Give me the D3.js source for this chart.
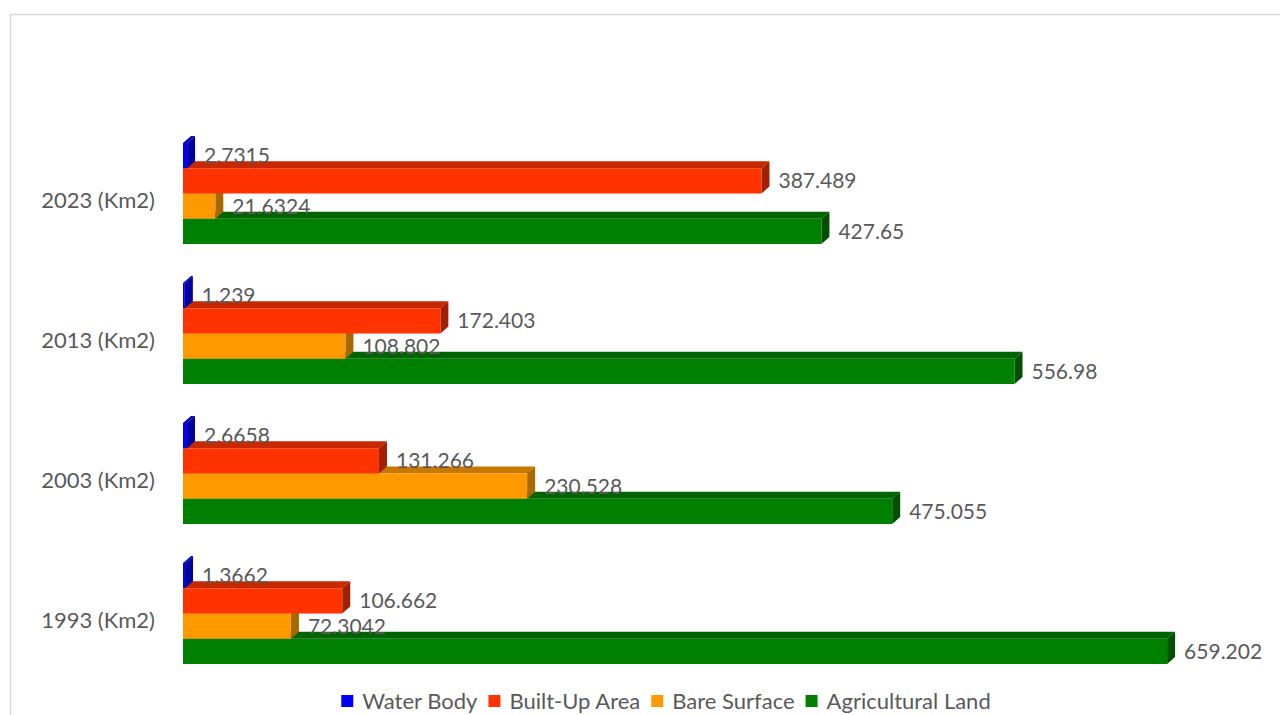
<!DOCTYPE html>
<html>
<head>
<meta charset="utf-8">
<title>Land use change (Km2)</title>
<script src="https://cdnjs.cloudflare.com/ajax/libs/d3/7.8.5/d3.min.js"></script>
<style>
    body { margin: 0; background: #fff; overflow: hidden; }
    text { font-family: Lato, "Open Sans", sans-serif; fill: #595959; }
</style>
</head>
<body>
<div id="chart"></div>
<script>
// categories, bottom to top as in the picture
var years = ["1993 (Km2)", "2003 (Km2)", "2013 (Km2)", "2023 (Km2)"];
var seriesNames = ["Water Body", "Built-Up Area", "Bare Surface", "Agricultural Land"];

// values per year, same order as years
var waterBody = [1.3662, 2.6658, 1.239, 2.7315];
var builtUp = [106.662, 131.266, 172.403, 387.489];
var bareSurface = [72.3042, 230.528, 108.802, 21.6324];
var agricultural = [659.202, 475.055, 556.98, 427.65];

var fronts = ["#0000ff", "#ff3300", "#ff9900", "#008000"];
var tops = ["#0000c0", "#c82800", "#c87800", "#006400"];
var sides = ["#0000a0", "#a02000", "#a86800", "#005000"];

var width = 1280, height = 715;
var depthX = 8, depthY = 7;

var series = [waterBody, builtUp, bareSurface, agricultural];

var svg = d3.select("#chart").append("svg")
    .attr("width", width)
    .attr("height", height);

// chart frame (runs off the right/bottom edge)
svg.append("rect")
    .attr("x", 10.5).attr("y", 14.5)
    .attr("width", 1400).attr("height", 900)
    .attr("fill", "none")
    .attr("stroke", "#d9d9d9")
    .attr("stroke-width", 1.5);

var x = d3.scaleLinear().domain([0, 700]).range([183, 1228]);

var y0 = d3.scaleBand()
    .domain(years.slice().reverse())
    .range([130, 690]);

var y1 = d3.scaleBand()
    .domain(seriesNames)
    .range([13, 114]);

// flatten into bar records
var bars = [];
years.forEach(function(yr, i) {
    seriesNames.forEach(function(s, j) {
        bars.push({ year: yr, name: s, idx: j, value: series[j][i] });
    });
});
// draw lower bars first so upper front faces cover their top faces
bars.sort(function(a, b) { return b.idx - a.idx; });

var h = y1.bandwidth();

var g = svg.selectAll("g.bar")
    .data(bars)
    .enter().append("g")
    .attr("class", "bar")
    .attr("transform", function(d) { return "translate(0," + (y0(d.year) + y1(d.name)) + ")"; });

g.append("polygon") // top face
    .attr("points", function(d) {
        var x0 = x(0), x1 = x(d.value);
        return [[x0, 0], [x0 + depthX, -depthY], [x1 + depthX, -depthY], [x1, 0]].join(" ");
    })
    .attr("fill", function(d) { return tops[d.idx]; });

g.append("polygon") // side face
    .attr("points", function(d) {
        var x1 = x(d.value);
        return [[x1, 0], [x1 + depthX, -depthY], [x1 + depthX, h - depthY], [x1, h]].join(" ");
    })
    .attr("fill", function(d) { return sides[d.idx]; });

g.append("rect") // front face
    .attr("x", x(0))
    .attr("y", 0)
    .attr("width", function(d) { return x(d.value) - x(0); })
    .attr("height", h)
    .attr("fill", function(d) { return fronts[d.idx]; });

// data labels on top of everything
svg.selectAll("text.val")
    .data(bars)
    .enter().append("text")
    .attr("class", "val")
    .attr("x", function(d) { return x(d.value) + depthX + 9; })
    .attr("y", function(d) { return y0(d.year) + y1(d.name) + h / 2; })
    .attr("dy", "0.36em")
    .style("font-size", "21px")
    .text(function(d) { return d.value; });

// category labels
svg.selectAll("text.cat")
    .data(years)
    .enter().append("text")
    .attr("class", "cat")
    .attr("x", 155)
    .attr("y", function(d) { return y0(d) + y0.bandwidth() / 2; })
    .attr("dy", "0.36em")
    .attr("text-anchor", "end")
    .style("font-size", "22px")
    .text(function(d) { return d; });

// legend
var legend = svg.append("g");
var lx = 0;
seriesNames.forEach(function(s, j) {
    legend.append("rect")
        .attr("x", lx).attr("y", -6)
        .attr("width", 12).attr("height", 12)
        .attr("fill", fronts[j]);
    var t = legend.append("text")
        .attr("x", lx + 21)
        .attr("y", 0)
        .attr("dy", "0.36em")
        .style("font-size", "22px")
        .text(s);
    lx += 21 + t.node().getComputedTextLength() + 11;
});
lx -= 11;
legend.attr("transform", "translate(" + (666 - lx / 2) + ",701)");
</script>
</body>
</html>
